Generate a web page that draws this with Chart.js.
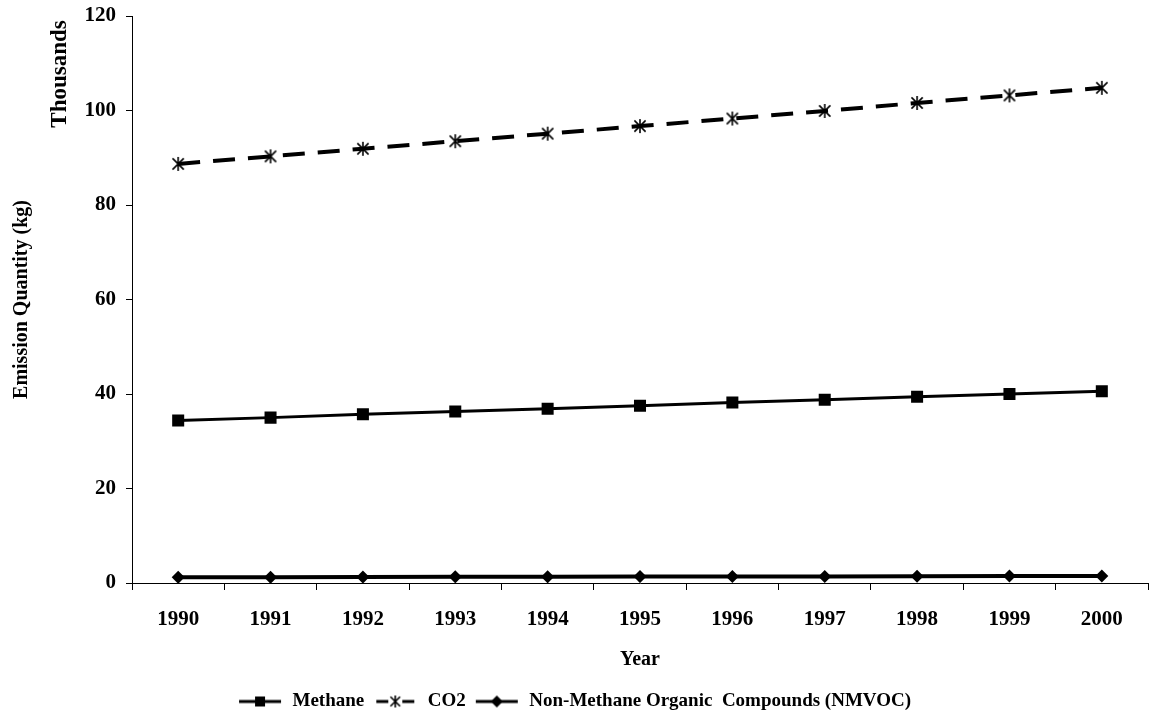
<!DOCTYPE html>
<html>
<head>
<meta charset="utf-8">
<script src="https://cdn.jsdelivr.net/npm/chart.js@4/dist/chart.umd.min.js"></script>
<style>
  html, body { margin: 0; padding: 0; background: #fff; }
  #wrap { width: 1149px; height: 725px; }
</style>
</head>
<body>
<div id="wrap"><canvas id="emission-chart" width="1149" height="725"></canvas></div>
<script>
// Data (thousands of kg)
let years = Array.of('1990', '1991', '1992', '1993', '1994', '1995', '1996', '1997', '1998', '1999', '2000');
let methane = Array.of(34.4, 35.0, 35.7, 36.3, 36.9, 37.5, 38.2, 38.8, 39.4, 40.0, 40.6);
let co2 = Array.of(88.7, 90.3, 91.9, 93.5, 95.1, 96.7, 98.3, 99.9, 101.6, 103.2, 104.8);
let nmvoc = Array.of(1.2, 1.2, 1.25, 1.3, 1.3, 1.35, 1.4, 1.4, 1.45, 1.5, 1.5);
let seriesNames = Array.of('Methane', 'CO2', 'Non-Methane Organic  Compounds (NMVOC)');
let yTicks = Array.of(0, 20, 40, 60, 80, 100, 120);

const FONT = '"Liberation Serif", "Times New Roman", serif';

// asterisk marker for CO2
function starMarker(size) {
    let c = document.createElement('canvas');
    c.width = size; c.height = size;
    let g = c.getContext('2d');
    let m = size / 2, r = size / 2 - 1;
    g.strokeStyle = '#000';
    g.lineWidth = 1.6;
    g.beginPath();
    g.moveTo(m - r * 0.8, m - r * 0.8); g.lineTo(m + r * 0.8, m + r * 0.8);
    g.moveTo(m + r * 0.8, m - r * 0.8); g.lineTo(m - r * 0.8, m + r * 0.8);
    g.moveTo(m, m - r); g.lineTo(m, m + r);
    g.stroke();
    return c;
}

// little line + marker picture for the legend
function legendIcon(kind) {
    let c = document.createElement('canvas');
    c.width = 46; c.height = 16;
    let g = c.getContext('2d');
    g.strokeStyle = '#000';
    g.fillStyle = '#000';
    g.lineWidth = 3;
    g.beginPath();
    if (kind === 'co2') {
        g.moveTo(4, 8); g.lineTo(16, 8);
        g.moveTo(30, 8); g.lineTo(42, 8);
    } else {
        g.moveTo(2, 8); g.lineTo(44, 8);
    }
    g.stroke();
    if (kind === 'rect') {
        g.fillRect(18, 3, 10, 10);
    } else if (kind === 'diamond') {
        g.beginPath();
        g.moveTo(23, 2); g.lineTo(29, 8); g.lineTo(23, 14); g.lineTo(17, 8);
        g.closePath(); g.fill();
    } else {
        g.drawImage(starMarker(14), 16, 1);
    }
    return c;
}

let icons = [legendIcon('rect'), legendIcon('co2'), legendIcon('diamond')];

// "Thousands" unit label next to the y axis
const unitLabel = {
    id: 'unitLabel',
    afterDraw(chart) {
        let ctx = chart.ctx;
        ctx.save();
        ctx.translate(60, 74);
        ctx.rotate(-Math.PI / 2);
        ctx.font = 'bold 23px ' + FONT;
        ctx.fillStyle = '#000';
        ctx.textAlign = 'center';
        ctx.textBaseline = 'middle';
        ctx.fillText('Thousands', 0, 0);
        ctx.restore();
    }
};

let ctx = document.getElementById('emission-chart').getContext('2d');

var chart = new Chart(ctx, {
    type: 'line',
    data: {
        labels: years,
        datasets: [{
            label: seriesNames[0],
            data: methane,
            borderColor: '#000',
            backgroundColor: '#000',
            borderWidth: 3,
            pointStyle: 'rect',
            pointRadius: 8.5,
            pointBorderWidth: 0,
            tension: 0
        }, {
            label: seriesNames[1],
            data: co2,
            borderColor: '#000',
            backgroundColor: '#000',
            borderWidth: 4,
            borderDash: [22, 13],
            pointStyle: starMarker(16),
            tension: 0
        }, {
            label: seriesNames[2],
            data: nmvoc,
            borderColor: '#000',
            backgroundColor: '#000',
            borderWidth: 4,
            pointStyle: 'rectRot',
            pointRadius: 6.5,
            pointBorderWidth: 0,
            tension: 0
        }]
    },
    options: {
        responsive: false,
        animation: false,
        layout: { autoPadding: false, padding: { top: 16, right: 1, bottom: 4, left: 0 } },
        plugins: {
            tooltip: { enabled: false },
            legend: {
                position: 'bottom',
                labels: {
                    usePointStyle: true,
                    pointStyleWidth: 46,
                    padding: 8,
                    color: '#000',
                    font: { family: FONT, size: 19, weight: 'bold' },
                    generateLabels: function (chart) {
                        return chart.data.datasets.map(function (ds, i) {
                            return {
                                text: ds.label,
                                pointStyle: icons[i],
                                fillStyle: '#000',
                                strokeStyle: '#000',
                                lineWidth: 0,
                                hidden: false,
                                datasetIndex: i
                            };
                        });
                    }
                }
            }
        },
        scales: {
            x: {
                offset: true,
                afterFit: function (scale) {
                    scale.height = 101;
                    scale.paddingLeft = 0;
                    scale.paddingRight = 0;
                },
                grid: {
                    offset: true,
                    drawOnChartArea: false,
                    drawTicks: true,
                    tickLength: 7,
                    color: '#000'
                },
                border: { color: '#000', width: 1 },
                ticks: {
                    color: '#000',
                    padding: 17,
                    maxRotation: 0,
                    font: { family: FONT, size: 21, weight: 'bold' }
                },
                title: {
                    display: true,
                    text: 'Year',
                    color: '#000',
                    padding: { top: 4, bottom: 12 },
                    font: { family: FONT, size: 20, weight: 'bold' }
                }
            },
            y: {
                min: 0,
                max: 120,
                afterFit: function (scale) {
                    scale.width = 132;
                    scale.paddingTop = 0;
                    scale.paddingBottom = 0;
                },
                afterBuildTicks: function (scale) {
                    scale.ticks = yTicks.map(function (v) { return { value: v }; });
                },
                grid: {
                    drawOnChartArea: false,
                    drawTicks: true,
                    tickLength: 6,
                    color: '#000'
                },
                border: { color: '#000', width: 1 },
                ticks: {
                    color: '#000',
                    padding: 10,
                    font: { family: FONT, size: 21, weight: 'bold' }
                },
                title: {
                    display: true,
                    text: 'Emission Quantity (kg)',
                    color: '#000',
                    padding: { top: 10, bottom: 0 },
                    font: { family: FONT, size: 20, weight: 'bold' }
                }
            }
        }
    },
    plugins: [unitLabel]
});
</script>
</body>
</html>
